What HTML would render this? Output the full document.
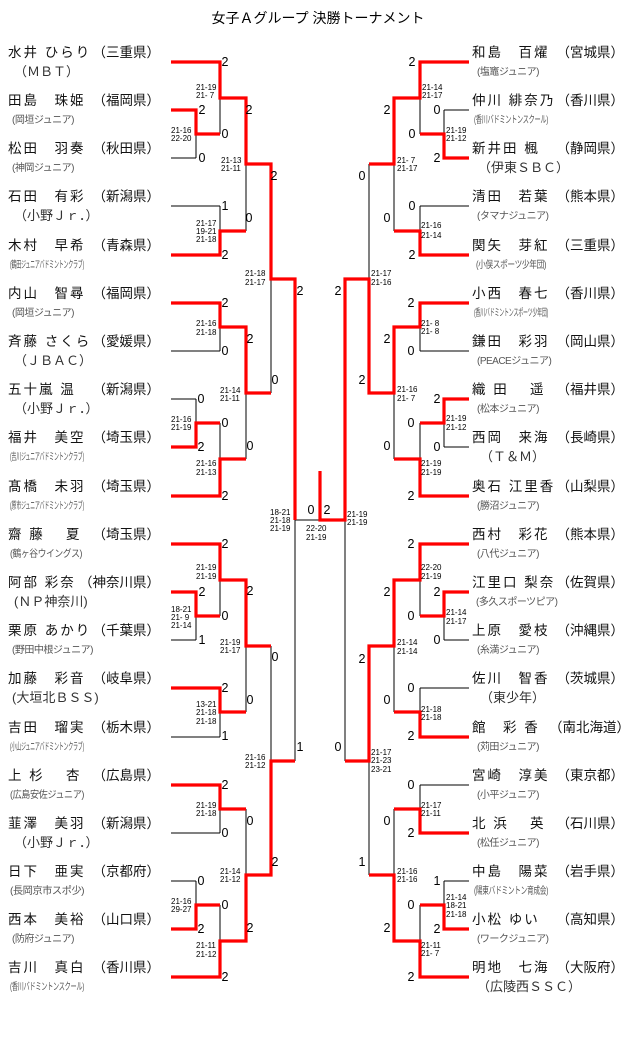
<!DOCTYPE html>
<html><head><meta charset="utf-8">
<style>
html,body{margin:0;padding:0;background:#fff;}
svg{display:block;font-family:"Liberation Sans","Noto Sans CJK JP",sans-serif;}
.nm{font-size:13.5px;letter-spacing:2px;fill:#111;}
.pf{font-size:13.5px;fill:#111;}
.cl{font-size:10px;fill:#555;letter-spacing:-0.5px;}
.cb{font-size:13px;fill:#333;}
.sc{font-size:8px;fill:#000;}
.d{font-size:12.5px;fill:#000;text-anchor:middle;dominant-baseline:central;}
.k{stroke:#000;stroke-width:1;fill:none;}
.r{stroke:#ff0000;stroke-width:3.2;fill:none;}
</style></head><body>
<svg width="640" height="1061" viewBox="0 0 640 1061" xmlns="http://www.w3.org/2000/svg">
<text x="318" y="23" font-size="14" text-anchor="middle" fill="#000">女子Ａグループ 決勝トーナメント</text>

<!-- black structure left -->
<path class="k" d="
M171 62H220 M171 110H196 M171 158H196 M171 206H220 M171 255H220
M171 303H220 M171 351H220 M171 399H196 M171 447H196 M171 496H220
M171 544H220 M171 592H196 M171 640H196 M171 688H220 M171 737H220
M171 785H220 M171 833H220 M171 881H196 M171 929H196 M171 977H220
M196 110V158 M196 134H220 M196 399V447 M196 423H220 M196 592V640 M196 616H220 M196 881V929 M196 905H220
M220 62V134 M220 98H246 M220 206V255 M220 231H246 M220 303V351 M220 327H246 M220 423V496 M220 459H246
M220 544V616 M220 580H246 M220 688V737 M220 712H246 M220 785V833 M220 809H246 M220 905V977 M220 941H246
M246 98V231 M246 164H271 M246 327V459 M246 393H271 M246 580V712 M246 646H271 M246 809V941 M246 875H271
M271 164V393 M271 279H295 M271 646V875 M271 761H295
M295 279V761 M295 520H345
"/>
<!-- black structure right -->
<path class="k" d="
M469 62H420 M469 110H444 M469 158H444 M469 206H420 M469 255H420
M469 303H420 M469 351H420 M469 399H444 M469 447H444 M469 496H420
M469 544H420 M469 592H444 M469 640H444 M469 688H420 M469 737H420
M469 785H420 M469 833H420 M469 881H444 M469 929H444 M469 977H420
M444 110V158 M444 134H420 M444 399V447 M444 423H420 M444 592V640 M444 616H420 M444 881V929 M444 905H420
M420 62V134 M420 98H394 M420 206V255 M420 231H394 M420 303V351 M420 327H394 M420 423V496 M420 459H394
M420 544V616 M420 580H394 M420 688V737 M420 712H394 M420 785V833 M420 809H394 M420 905V977 M420 941H394
M394 98V231 M394 164H369 M394 327V459 M394 393H369 M394 580V712 M394 646H369 M394 809V941 M394 875H369
M369 164V393 M369 279H345 M369 646V875 M369 761H345
M345 279V761
"/>
<!-- red paths -->
<path class="r" d="
M171 62H220V98H246V164H271V279H295V520
M171 110H196V134H220
M171 255H220V231H246
M171 303H220V327H246V393H271
M171 447H196V423H220
M171 496H220V459H246
M171 544H220V580H246V646H271
M171 592H196V616H220
M171 688H220V712H246
M171 785H220V809H246
M171 929H196V905H220
M171 977H220V941H246V875H271V761H295
M469 62H420V98H394V164H369
M469 158H444V134H420
M469 255H420V231H394
M469 303H420V327H394V393H369V279H345V520H320V471
M469 399H444V423H420
M469 496H420V459H394
M469 544H420V580H394V646H369V761H345
M469 592H444V616H420
M469 737H420V712H394
M469 833H420V809H394
M469 929H444V905H420
M469 977H420V941H394V875H369
"/>

<!-- digits left -->
<g class="d">
<text x="225" y="62">2</text><text x="202" y="110">2</text><text x="202" y="158">0</text><text x="225" y="134">0</text>
<text x="249" y="110">2</text><text x="225" y="206">1</text><text x="225" y="255">2</text><text x="249" y="218">0</text>
<text x="274" y="176">2</text><text x="275" y="380">0</text><text x="300" y="291">2</text><text x="300" y="747">1</text>
<text x="225" y="303">2</text><text x="225" y="351">0</text><text x="250" y="339">2</text><text x="201" y="399">0</text>
<text x="201" y="447">2</text><text x="225" y="423">0</text><text x="225" y="496">2</text><text x="250" y="446">0</text>
<text x="225" y="544">2</text><text x="202" y="592">2</text><text x="202" y="640">1</text><text x="225" y="616">0</text>
<text x="250" y="591">2</text><text x="225" y="688">2</text><text x="225" y="736">1</text><text x="250" y="700">0</text>
<text x="275" y="657">0</text>
<text x="225" y="785">2</text><text x="225" y="833">0</text><text x="250" y="821">0</text><text x="201" y="881">0</text>
<text x="201" y="929">2</text><text x="225" y="905">0</text><text x="225" y="977">2</text><text x="250" y="928">2</text>
<text x="275" y="862">2</text>
<text x="311" y="510">0</text><text x="327" y="510">2</text>
<!-- right -->
<text x="412" y="62">2</text><text x="437" y="110">0</text><text x="437" y="158">2</text><text x="412" y="134">0</text>
<text x="387" y="110">2</text><text x="412" y="206">0</text><text x="412" y="255">2</text><text x="387" y="218">0</text>
<text x="362" y="176">0</text>
<text x="411" y="303">2</text><text x="411" y="351">0</text><text x="387" y="339">2</text><text x="437" y="399">2</text>
<text x="437" y="447">0</text><text x="411" y="423">0</text><text x="411" y="496">2</text><text x="387" y="446">0</text>
<text x="362" y="380">2</text><text x="338" y="291">2</text>
<text x="411" y="544">2</text><text x="437" y="592">2</text><text x="437" y="640">0</text><text x="411" y="616">0</text>
<text x="387" y="592">2</text><text x="411" y="688">0</text><text x="411" y="736">2</text><text x="387" y="700">0</text>
<text x="362" y="659">2</text><text x="338" y="747">0</text>
<text x="411" y="785">0</text><text x="411" y="833">2</text><text x="387" y="821">0</text><text x="437" y="881">1</text>
<text x="437" y="929">2</text><text x="411" y="905">0</text><text x="411" y="977">2</text><text x="387" y="928">2</text>
<text x="362" y="862">1</text>
</g>

<!-- scores -->
<g class="sc">
<text x="196" y="90">21-19</text><text x="196" y="98">21- 7</text>
<text x="171" y="133">21-16</text><text x="171" y="141">22-20</text>
<text x="221" y="163">21-13</text><text x="221" y="171">21-11</text>
<text x="196" y="226">21-17</text><text x="196" y="234">19-21</text><text x="196" y="242">21-18</text>
<text x="245" y="276">21-18</text><text x="245" y="285">21-17</text>
<text x="196" y="326">21-16</text><text x="196" y="335">21-18</text>
<text x="220" y="393">21-14</text><text x="220" y="401">21-11</text>
<text x="171" y="422">21-16</text><text x="171" y="430">21-19</text>
<text x="196" y="466">21-16</text><text x="196" y="475">21-13</text>
<text x="270" y="515">18-21</text><text x="270" y="523">21-18</text><text x="270" y="531">21-19</text>
<text x="306" y="531">22-20</text><text x="306" y="540">21-19</text>
<text x="347" y="517">21-19</text><text x="347" y="525">21-19</text>
<text x="196" y="570">21-19</text><text x="196" y="579">21-19</text>
<text x="171" y="612">18-21</text><text x="171" y="620">21- 9</text><text x="171" y="628">21-14</text>
<text x="220" y="645">21-19</text><text x="220" y="653">21-17</text>
<text x="196" y="707">13-21</text><text x="196" y="715">21-18</text><text x="196" y="724">21-18</text>
<text x="245" y="760">21-16</text><text x="245" y="768">21-12</text>
<text x="196" y="808">21-19</text><text x="196" y="816">21-18</text>
<text x="220" y="874">21-14</text><text x="220" y="882">21-12</text>
<text x="171" y="904">21-16</text><text x="171" y="912">29-27</text>
<text x="196" y="948">21-11</text><text x="196" y="957">21-12</text>
<!-- right -->
<text x="422" y="90">21-14</text><text x="422" y="98">21-17</text>
<text x="446" y="133">21-19</text><text x="446" y="141">21-12</text>
<text x="397" y="163">21- 7</text><text x="397" y="171">21-17</text>
<text x="421" y="228">21-16</text><text x="421" y="238">21-14</text>
<text x="371" y="276">21-17</text><text x="371" y="285">21-16</text>
<text x="421" y="326">21- 8</text><text x="421" y="334">21- 8</text>
<text x="397" y="392">21-16</text><text x="397" y="401">21- 7</text>
<text x="446" y="421">21-19</text><text x="446" y="430">21-12</text>
<text x="421" y="466">21-19</text><text x="421" y="475">21-19</text>
<text x="421" y="570">22-20</text><text x="421" y="579">21-19</text>
<text x="446" y="615">21-14</text><text x="446" y="624">21-17</text>
<text x="397" y="645">21-14</text><text x="397" y="654">21-14</text>
<text x="421" y="712">21-18</text><text x="421" y="720">21-18</text>
<text x="371" y="755">21-17</text><text x="371" y="763">21-23</text><text x="371" y="772">23-21</text>
<text x="421" y="808">21-17</text><text x="421" y="816">21-11</text>
<text x="397" y="874">21-16</text><text x="397" y="882">21-16</text>
<text x="446" y="900">21-14</text><text x="446" y="908">18-21</text><text x="446" y="917">21-18</text>
<text x="421" y="948">21-11</text><text x="421" y="956">21- 7</text>
</g>

<!-- left names -->
<g>
<text class="nm" x="8" y="57">水井 ひらり</text><text class="pf" x="160" y="57" text-anchor="end">（三重県）</text><text class="cb" x="14" y="76">（ＭＢＴ）</text>
<text class="nm" x="8" y="105">田島　珠姫</text><text class="pf" x="160" y="105" text-anchor="end">（福岡県）</text><text class="cl" x="12" y="123">(岡垣ジュニア)</text>
<text class="nm" x="8" y="153">松田　羽奏</text><text class="pf" x="160" y="153" text-anchor="end">（秋田県）</text><text class="cl" x="12" y="171">(神岡ジュニア)</text>
<text class="nm" x="8" y="201">石田　有彩</text><text class="pf" x="160" y="201" text-anchor="end">（新潟県）</text><text class="cb" x="14" y="220">（小野Ｊｒ．）</text>
<text class="nm" x="8" y="250">木村　早希</text><text class="pf" x="160" y="250" text-anchor="end">（青森県）</text><text class="cl" x="10" y="268" textLength="74" lengthAdjust="spacingAndGlyphs">(鶴田ジュニアバドミントンクラブ)</text>
<text class="nm" x="8" y="298">内山　智尋</text><text class="pf" x="160" y="298" text-anchor="end">（福岡県）</text><text class="cl" x="12" y="316">(岡垣ジュニア)</text>
<text class="nm" x="8" y="346">斉藤 さくら</text><text class="pf" x="160" y="346" text-anchor="end">（愛媛県）</text><text class="cb" x="14" y="365">（ＪＢＡＣ）</text>
<text class="nm" x="8" y="394">五十嵐 温</text><text class="pf" x="160" y="394" text-anchor="end">（新潟県）</text><text class="cb" x="14" y="413">（小野Ｊｒ．）</text>
<text class="nm" x="8" y="442">福井　美空</text><text class="pf" x="160" y="442" text-anchor="end">（埼玉県）</text><text class="cl" x="10" y="460" textLength="74" lengthAdjust="spacingAndGlyphs">(吉川ジュニアバドミントンクラブ)</text>
<text class="nm" x="8" y="491">髙橋　未羽</text><text class="pf" x="160" y="491" text-anchor="end">（埼玉県）</text><text class="cl" x="10" y="509" textLength="74" lengthAdjust="spacingAndGlyphs">(原市ジュニアバドミントンクラブ)</text>
<text class="nm" x="8" y="539">齋 藤　 夏</text><text class="pf" x="160" y="539" text-anchor="end">（埼玉県）</text><text class="cl" x="10" y="557" textLength="72" lengthAdjust="spacingAndGlyphs">(鶴ヶ谷ウイングス)</text>
<text class="nm" x="8" y="587">阿部 彩奈</text><text class="pf" x="160" y="587" text-anchor="end">（神奈川県）</text><text class="cb" x="14" y="606" font-size="12">(ＮＰ神奈川)</text>
<text class="nm" x="8" y="635">栗原 あかり</text><text class="pf" x="160" y="635" text-anchor="end">（千葉県）</text><text class="cl" x="12" y="653">(野田中根ジュニア)</text>
<text class="nm" x="8" y="683">加藤　彩音</text><text class="pf" x="160" y="683" text-anchor="end">（岐阜県）</text><text class="cb" x="12" y="702" font-size="12">(大垣北ＢＳＳ)</text>
<text class="nm" x="8" y="732">吉田　瑠実</text><text class="pf" x="160" y="732" text-anchor="end">（栃木県）</text><text class="cl" x="10" y="750" textLength="74" lengthAdjust="spacingAndGlyphs">(小山ジュニアバドミントンクラブ)</text>
<text class="nm" x="8" y="780">上 杉　 杏</text><text class="pf" x="160" y="780" text-anchor="end">（広島県）</text><text class="cl" x="10" y="798" textLength="74" lengthAdjust="spacingAndGlyphs">(広島安佐ジュニア)</text>
<text class="nm" x="8" y="828">韮澤　美羽</text><text class="pf" x="160" y="828" text-anchor="end">（新潟県）</text><text class="cb" x="14" y="847">（小野Ｊｒ．）</text>
<text class="nm" x="8" y="876">日下　亜実</text><text class="pf" x="160" y="876" text-anchor="end">（京都府）</text><text class="cl" x="10" y="894" textLength="74" lengthAdjust="spacingAndGlyphs">(長岡京市スポ少)</text>
<text class="nm" x="8" y="924">西本　美裕</text><text class="pf" x="160" y="924" text-anchor="end">（山口県）</text><text class="cl" x="12" y="942">(防府ジュニア)</text>
<text class="nm" x="8" y="972">吉川　真白</text><text class="pf" x="160" y="972" text-anchor="end">（香川県）</text><text class="cl" x="10" y="990" textLength="74" lengthAdjust="spacingAndGlyphs">(香川バドミントンスクール)</text>
</g>
<!-- right names -->
<g>
<text class="nm" x="472" y="57">和島　百燿</text><text class="pf" x="624" y="57" text-anchor="end">（宮城県）</text><text class="cl" x="477" y="75">(塩竈ジュニア)</text>
<text class="nm" x="472" y="105">仲川 緋奈乃</text><text class="pf" x="624" y="105" text-anchor="end">（香川県）</text><text class="cl" x="474" y="123" textLength="74" lengthAdjust="spacingAndGlyphs">(香川バドミントンスクール)</text>
<text class="nm" x="472" y="153">新井田 楓</text><text class="pf" x="624" y="153" text-anchor="end">（静岡県）</text><text class="cb" x="478" y="172">（伊東ＳＢＣ）</text>
<text class="nm" x="472" y="201">清田　若葉</text><text class="pf" x="624" y="201" text-anchor="end">（熊本県）</text><text class="cl" x="477" y="219">(タマナジュニア)</text>
<text class="nm" x="472" y="250">関矢　芽紅</text><text class="pf" x="624" y="250" text-anchor="end">（三重県）</text><text class="cl" x="476" y="268" textLength="70" lengthAdjust="spacingAndGlyphs">(小俣スポーツ少年団)</text>
<text class="nm" x="472" y="298">小西　春七</text><text class="pf" x="624" y="298" text-anchor="end">（香川県）</text><text class="cl" x="474" y="316" textLength="74" lengthAdjust="spacingAndGlyphs">(香川バドミントンスポーツ少年団)</text>
<text class="nm" x="472" y="346">鎌田　彩羽</text><text class="pf" x="624" y="346" text-anchor="end">（岡山県）</text><text class="cl" x="477" y="364">(PEACEジュニア)</text>
<text class="nm" x="472" y="394">織 田　 遥</text><text class="pf" x="624" y="394" text-anchor="end">（福井県）</text><text class="cl" x="477" y="412">(松本ジュニア)</text>
<text class="nm" x="472" y="442">西岡　来海</text><text class="pf" x="624" y="442" text-anchor="end">（長崎県）</text><text class="cb" x="480" y="461">（Ｔ＆Ｍ）</text>
<text class="nm" x="472" y="491">奥石 江里香</text><text class="pf" x="624" y="491" text-anchor="end">（山梨県）</text><text class="cl" x="477" y="509">(勝沼ジュニア)</text>
<text class="nm" x="472" y="539">西村　彩花</text><text class="pf" x="624" y="539" text-anchor="end">（熊本県）</text><text class="cl" x="477" y="557">(八代ジュニア)</text>
<text class="nm" x="472" y="587">江里口 梨奈</text><text class="pf" x="624" y="587" text-anchor="end">（佐賀県）</text><text class="cl" x="476" y="605">(多久スポーツピア)</text>
<text class="nm" x="472" y="635">上原　愛枝</text><text class="pf" x="624" y="635" text-anchor="end">（沖縄県）</text><text class="cl" x="477" y="653">(糸満ジュニア)</text>
<text class="nm" x="472" y="683">佐川　智香</text><text class="pf" x="624" y="683" text-anchor="end">（茨城県）</text><text class="cb" x="480" y="702">（東少年）</text>
<text class="nm" x="472" y="732">館　彩 香</text><text class="pf" x="630" y="732" text-anchor="end" font-size="13">（南北海道）</text><text class="cl" x="477" y="750">(苅田ジュニア)</text>
<text class="nm" x="472" y="780">宮崎　淳美</text><text class="pf" x="624" y="780" text-anchor="end">（東京都）</text><text class="cl" x="477" y="798">(小平ジュニア)</text>
<text class="nm" x="472" y="828">北 浜　 英</text><text class="pf" x="624" y="828" text-anchor="end">（石川県）</text><text class="cl" x="477" y="846">(松任ジュニア)</text>
<text class="nm" x="472" y="876">中島　陽菜</text><text class="pf" x="624" y="876" text-anchor="end">（岩手県）</text><text class="cl" x="474" y="894" textLength="74" lengthAdjust="spacingAndGlyphs">(陽東バドミントン育成会)</text>
<text class="nm" x="472" y="924">小松 ゆい</text><text class="pf" x="624" y="924" text-anchor="end">（高知県）</text><text class="cl" x="477" y="942">(ワークジュニア)</text>
<text class="nm" x="472" y="972">明地　七海</text><text class="pf" x="624" y="972" text-anchor="end">（大阪府）</text><text class="cb" x="477" y="991" font-size="12">（広陵西ＳＳＣ）</text>
</g>
</svg>
</body></html>
